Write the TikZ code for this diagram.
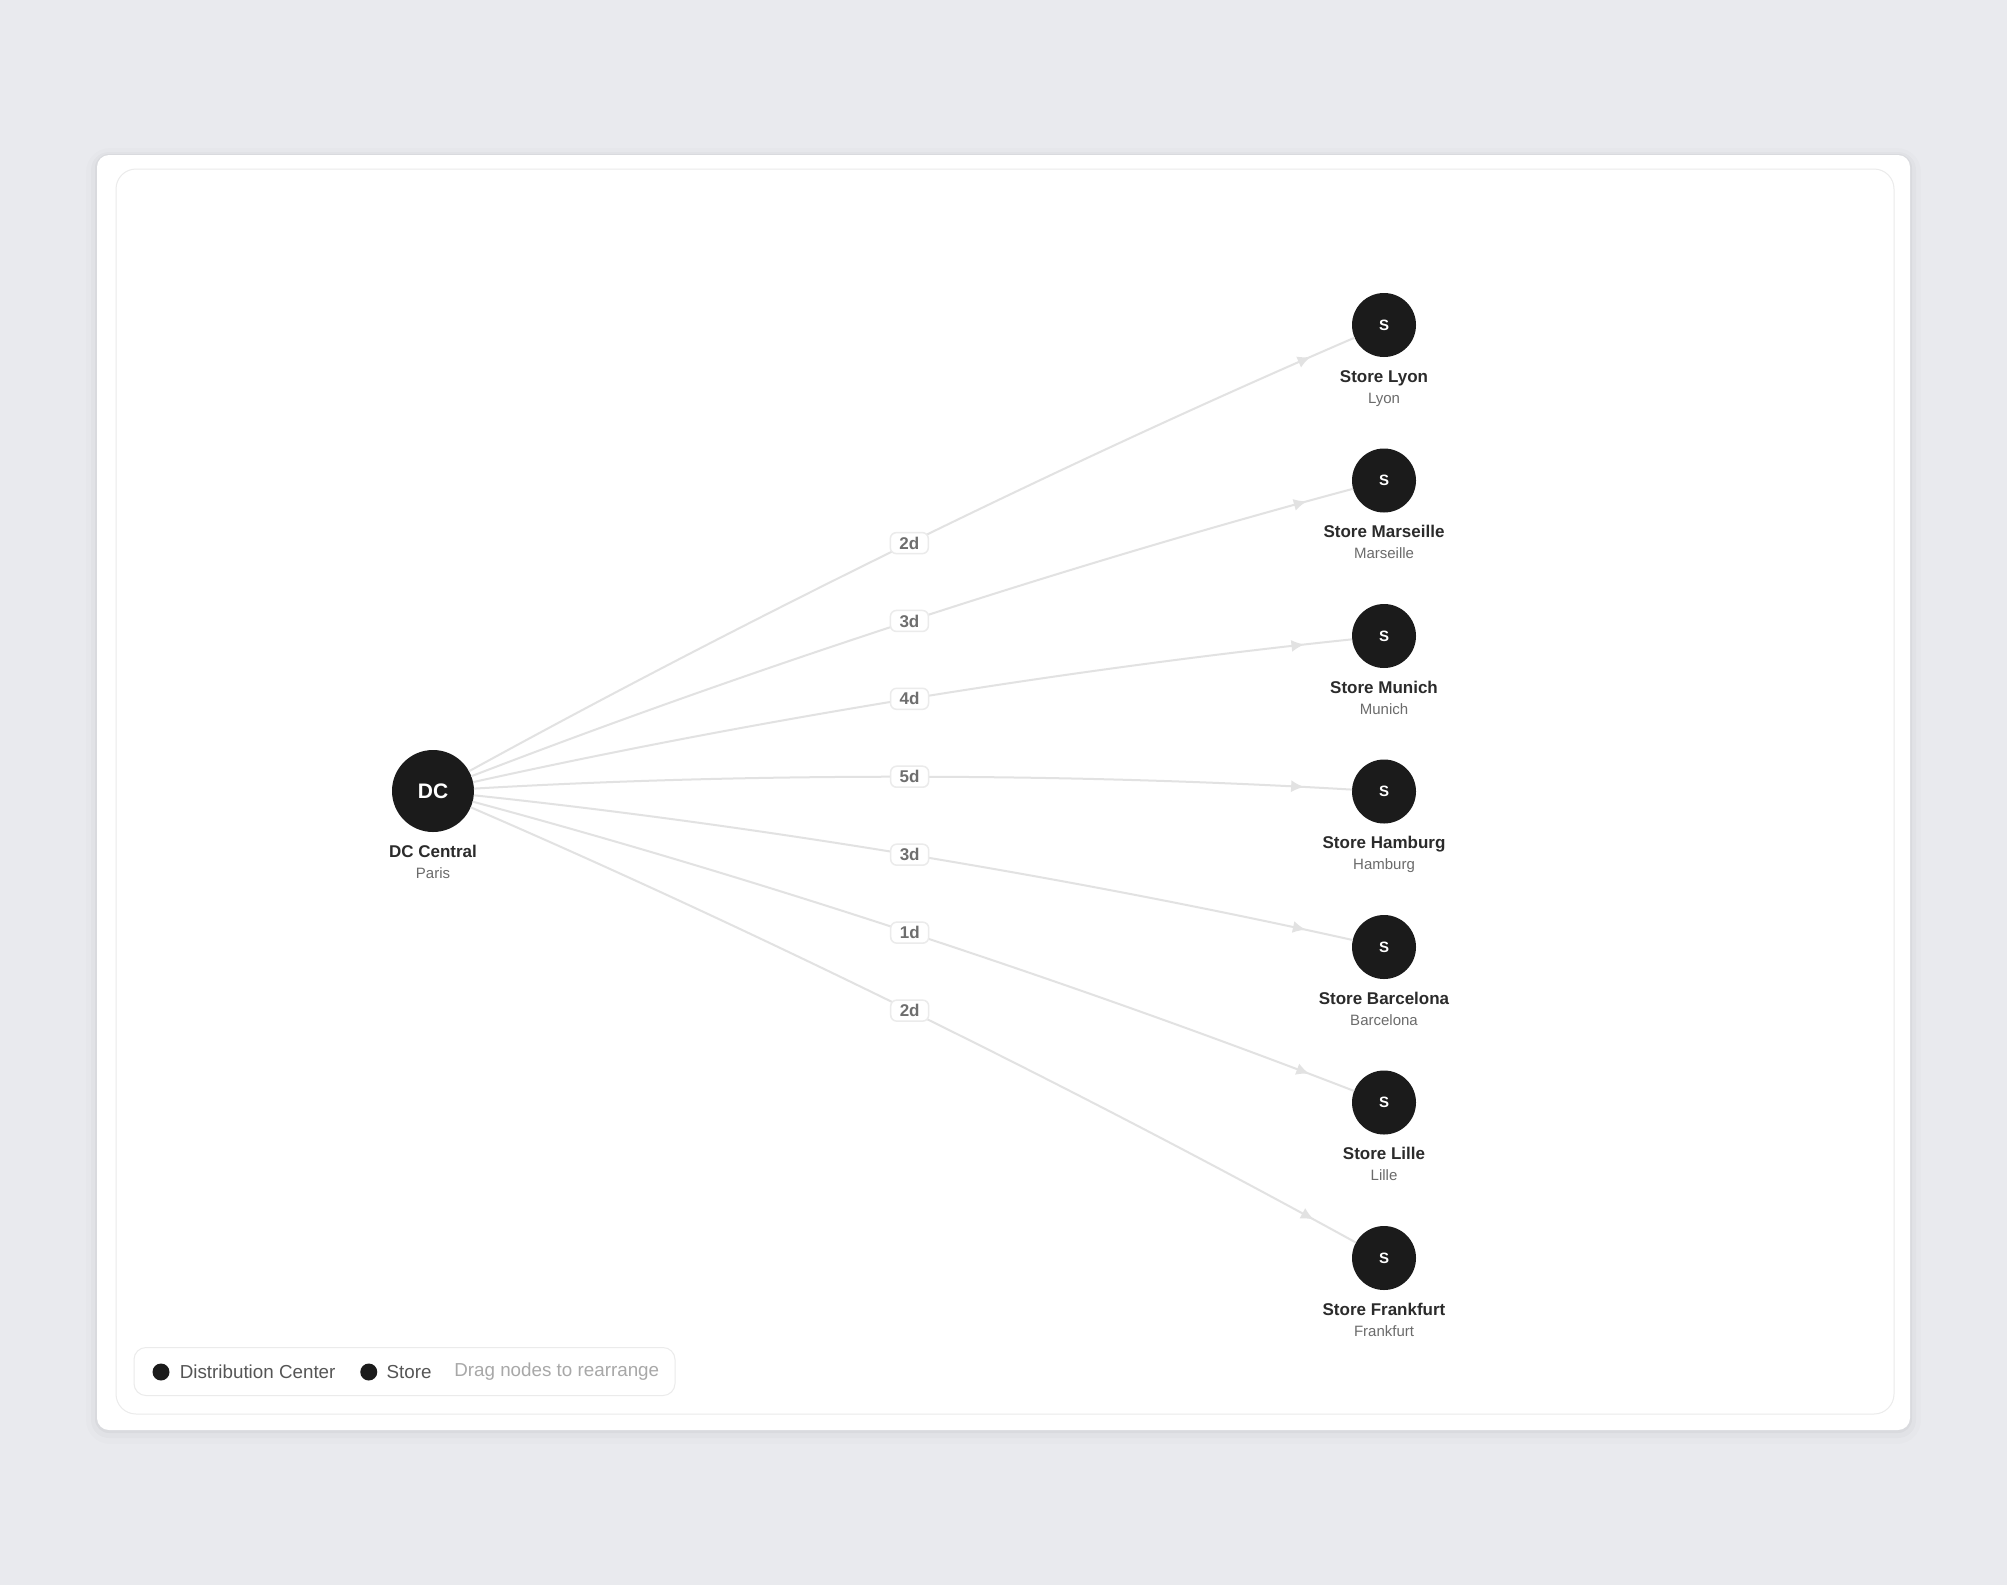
\documentclass[tikz,border=0pt]{standalone}
\usepackage{fontspec}
\setmainfont{Liberation Sans}
\usetikzlibrary{positioning,calc,arrows.meta,decorations.markings}

\definecolor{pagebg}{HTML}{E9EAEE}
\definecolor{panelline}{HTML}{EBEBEB}
\definecolor{nodeblack}{HTML}{1B1B1B}
\definecolor{edgegray}{HTML}{E2E2E2}
\definecolor{daygray}{HTML}{6E6E6E}
\definecolor{citygray}{HTML}{6B6B6B}
\definecolor{namegray}{HTML}{2B2B2B}
\definecolor{legendgray}{HTML}{555555}
\definecolor{hintgray}{HTML}{A8A8A8}

\begin{document}
\begin{tikzpicture}[x=0.5pt, y=-0.5pt,
        dcnode/.style={
            circle,
            fill=nodeblack,
            outer sep=0pt,
            minimum size=41pt,
            text=white,
            font=\fontsize{10.5}{12}\selectfont\bfseries},
        storenode/.style={
            circle,
            fill=nodeblack,
            outer sep=0pt,
            minimum size=32pt,
            text=white,
            font=\fontsize{7.5}{9}\selectfont\bfseries},
        nametext/.style={
            inner sep=0pt,
            text height=6.5pt,
            text depth=2pt,
            text=namegray,
            font=\fontsize{8.5}{10}\selectfont\bfseries},
        citytext/.style={
            inner sep=0pt,
            text height=5pt,
            text depth=1.5pt,
            text=citygray,
            font=\fontsize{7.5}{9}\selectfont},
        daybox/.style={
            rectangle,
            rounded corners=3pt,
            draw=panelline, line width=0.75pt,
            fill=white,
            inner sep=0pt,
            minimum width=19pt,
            minimum height=10.5pt,
            text=daygray,
            font=\fontsize{8.5}{10}\selectfont\bfseries},
        route/.style={
            draw=edgegray,
            line width=1pt,
            postaction={decorate},
            decoration={markings,
                mark=at position -24pt with {\arrow{Latex[length=6.5pt,width=6pt,color=edgegray]}}}},
        legenddot/.style={
            circle,
            fill=nodeblack,
            inner sep=0pt,
            minimum size=8.5pt},
        legendtext/.style={
            inner sep=0pt,
            font=\fontsize{9.4}{11}\selectfont}
        ]

    % page, card and panel
    \useasboundingbox (0,0) rectangle (2007,1585);
    \fill[pagebg] (0,0) rectangle (2007,1585);
    \fill[black, opacity=0.012, rounded corners=12pt] (86,148) rectangle (1921,1444);
    \fill[black, opacity=0.02, rounded corners=9pt] (91,152) rectangle (1916,1438);
    \fill[black, opacity=0.03, rounded corners=7pt] (95,154) rectangle (1912,1433);
    \fill[white, rounded corners=6pt] (97,155) rectangle (1910,1430);
    \draw[panelline, line width=0.5pt, rounded corners=10pt] (116,169) rectangle (1894,1414);

    % distribution center
    \node (dc) [dcnode] at (433,791) {DC};
    \node (dcname) [nametext, below=6pt of dc] {DC Central};
    \node (dccity) [citytext, below=3pt of dcname] {Paris};

    % stores
    \node (lyon) [storenode] at (1384,325) {S};
    \node (marseille) [storenode, below=45.75pt of lyon] {S};
    \node (munich) [storenode, below=45.75pt of marseille] {S};
    \node (hamburg) [storenode, below=45.75pt of munich] {S};
    \node (barcelona) [storenode, below=45.75pt of hamburg] {S};
    \node (lille) [storenode, below=45.75pt of barcelona] {S};
    \node (frankfurt) [storenode, below=45.75pt of lille] {S};

    \node (lyonname) [nametext, below=6pt of lyon] {Store Lyon};
    \node (lyoncity) [citytext, below=3pt of lyonname] {Lyon};
    \node (marseillename) [nametext, below=6pt of marseille] {Store Marseille};
    \node (marseillecity) [citytext, below=3pt of marseillename] {Marseille};
    \node (munichname) [nametext, below=6pt of munich] {Store Munich};
    \node (munichcity) [citytext, below=3pt of munichname] {Munich};
    \node (hamburgname) [nametext, below=6pt of hamburg] {Store Hamburg};
    \node (hamburgcity) [citytext, below=3pt of hamburgname] {Hamburg};
    \node (barcelonaname) [nametext, below=6pt of barcelona] {Store Barcelona};
    \node (barcelonacity) [citytext, below=3pt of barcelonaname] {Barcelona};
    \node (lillename) [nametext, below=6pt of lille] {Store Lille};
    \node (lillecity) [citytext, below=3pt of lillename] {Lille};
    \node (frankfurtname) [nametext, below=6pt of frankfurt] {Store Frankfurt};
    \node (frankfurtcity) [citytext, below=3pt of frankfurtname] {Frankfurt};

    % bend points of the routes
    \coordinate (mlyon) at ($(dc)!0.5!(lyon)+(0,-28)$);
    \coordinate (mmarseille) at ($(dc)!0.5!(marseille)+(0,-28)$);
    \coordinate (mmunich) at ($(dc)!0.5!(munich)+(0,-28)$);
    \coordinate (mhamburg) at ($(dc)!0.5!(hamburg)+(0,-28)$);
    \coordinate (mbarcelona) at ($(dc)!0.5!(barcelona)+(0,-28)$);
    \coordinate (mlille) at ($(dc)!0.5!(lille)+(0,-28)$);
    \coordinate (mfrankfurt) at ($(dc)!0.5!(frankfurt)+(0,-28)$);

    % routes
    \draw [route] (dc) .. controls ($(dc)!2/3!(mlyon)$) and ($(lyon)!2/3!(mlyon)$) .. (lyon) node [daybox, pos=0.5] {2d};
    \draw [route] (dc) .. controls ($(dc)!2/3!(mmarseille)$) and ($(marseille)!2/3!(mmarseille)$) .. (marseille) node [daybox, pos=0.5] {3d};
    \draw [route] (dc) .. controls ($(dc)!2/3!(mmunich)$) and ($(munich)!2/3!(mmunich)$) .. (munich) node [daybox, pos=0.5] {4d};
    \draw [route] (dc) .. controls ($(dc)!2/3!(mhamburg)$) and ($(hamburg)!2/3!(mhamburg)$) .. (hamburg) node [daybox, pos=0.5] {5d};
    \draw [route] (dc) .. controls ($(dc)!2/3!(mbarcelona)$) and ($(barcelona)!2/3!(mbarcelona)$) .. (barcelona) node [daybox, pos=0.5] {3d};
    \draw [route] (dc) .. controls ($(dc)!2/3!(mlille)$) and ($(lille)!2/3!(mlille)$) .. (lille) node [daybox, pos=0.5] {1d};
    \draw [route] (dc) .. controls ($(dc)!2/3!(mfrankfurt)$) and ($(frankfurt)!2/3!(mfrankfurt)$) .. (frankfurt) node [daybox, pos=0.5] {2d};

    % legend
    \node (legend) [draw=panelline, fill=white, line width=0.5pt, rounded corners=6pt,
        minimum width=270.5pt, minimum height=24pt, inner sep=0pt] at (404.5,1371.5) {};
    \node (dcdot) [legenddot] at (161,1372) {};
    \node (dclegend) [legendtext, text=legendgray, right=4.75pt of dcdot] {Distribution Center};
    \node (storedot) [legenddot, right=12pt of dclegend] {};
    \node (storelegend) [legendtext, text=legendgray, right=4.25pt of storedot] {Store};
    \node (draghint) [legendtext, text=hintgray, right=11pt of storelegend] {Drag nodes to rearrange};

\end{tikzpicture}
\end{document}
